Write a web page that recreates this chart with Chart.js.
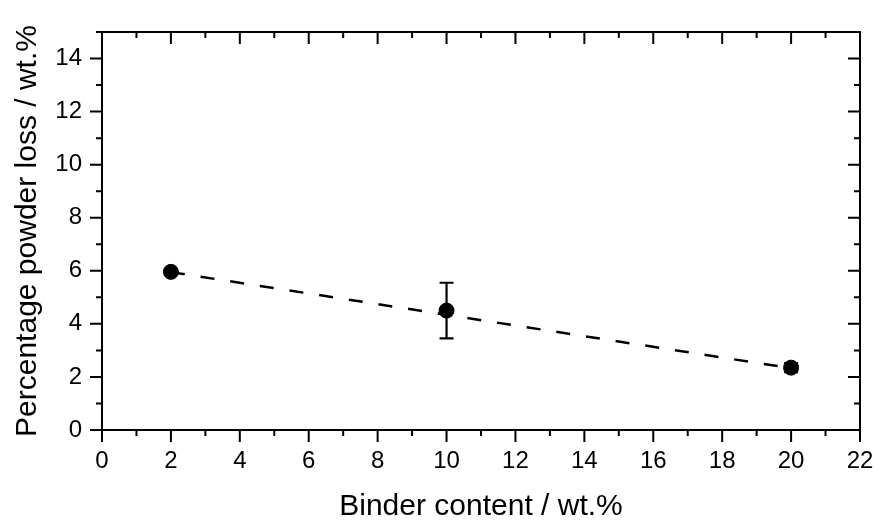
<!DOCTYPE html>
<html>
<head>
<meta charset="utf-8">
<script src="https://cdn.jsdelivr.net/npm/chart.js@4/dist/chart.umd.min.js"></script>
<style>
  body { margin: 0; background: #ffffff; }
  #wrap { width: 880px; height: 525px; }
</style>
</head>
<body>
<div id="wrap"><canvas id="chart0" width="880" height="525"></canvas></div>
<script>
const binderContent = [2, 10, 20];
const powderLoss = [5.96, 4.5, 2.35];
const powderLossErr = [0.1, 1.05, 0.17];

// dashed trend line end points
const fitX = [2, 20];
const fitY = [5.95, 2.33];

// axis ranges / ticks
const xMin = 0, xMax = 22, xStep = 2;
const yMin = 0, yMax = 15, yStep = 2;

const fontName = "'Liberation Sans', Arial, sans-serif";

function toPoints(xs, ys) {
  let pts = [];
  for (let i = 0; i < xs.length; ++i) {
    pts.push({ x: xs[i], y: ys[i] });
  }
  return pts;
}

// error bars drawn through the scales
const errorBars = {
  id: "errorBars",
  afterDatasetsDraw(chart) {
    const ctx = chart.ctx;
    const xs = chart.scales.x;
    const ys = chart.scales.y;
    ctx.save();
    ctx.strokeStyle = "#000";
    ctx.lineWidth = 2.2;
    for (let i = 0; i < binderContent.length; ++i) {
      let px = xs.getPixelForValue(binderContent[i]);
      let top = ys.getPixelForValue(powderLoss[i] + powderLossErr[i]);
      let bot = ys.getPixelForValue(powderLoss[i] - powderLossErr[i]);
      ctx.beginPath();
      ctx.moveTo(px, top);
      ctx.lineTo(px, bot);
      ctx.moveTo(px - 7, top);
      ctx.lineTo(px + 7, top);
      ctx.moveTo(px - 7, bot);
      ctx.lineTo(px + 7, bot);
      ctx.stroke();
    }
    ctx.restore();
  },
};

// box frame with major/minor ticks: out on left & bottom, in on top & right
const frameTicks = {
  id: "frameTicks",
  afterDraw(chart) {
    const ctx = chart.ctx;
    const a = chart.chartArea;
    const xs = chart.scales.x;
    const ys = chart.scales.y;
    const major = 12, minor = 6;
    ctx.save();
    ctx.strokeStyle = "#000";
    ctx.lineWidth = 2;
    ctx.strokeRect(a.left, a.top, a.right - a.left, a.bottom - a.top);
    ctx.beginPath();
    for (let v = xMin; v <= xMax; v += 1) {
      let px = xs.getPixelForValue(v);
      let len = v % xStep === 0 ? major : minor;
      ctx.moveTo(px, a.bottom);
      ctx.lineTo(px, a.bottom + len);
      ctx.moveTo(px, a.top);
      ctx.lineTo(px, a.top + len);
    }
    for (let v = yMin; v <= yMax; v += 1) {
      let py = ys.getPixelForValue(v);
      let len = v % yStep === 0 ? major : minor;
      ctx.moveTo(a.left, py);
      ctx.lineTo(a.left - len, py);
      ctx.moveTo(a.right, py);
      ctx.lineTo(a.right - len, py);
    }
    ctx.stroke();
    ctx.restore();
  },
};

const hiddenGrid = {
  drawOnChartArea: false,
  drawTicks: true,
  tickLength: 12,
  color: "rgba(0,0,0,0)",
};

let ctx = document.getElementById("chart0").getContext("2d");

let chart = new Chart(ctx, {
  type: "scatter",
  data: {
    datasets: [
      {
        type: "line",
        data: toPoints(fitX, fitY),
        borderColor: "#000",
        borderWidth: 2.5,
        borderDash: [14, 16],
        pointRadius: 0,
        fill: false,
      },
      {
        data: toPoints(binderContent, powderLoss),
        backgroundColor: "#000",
        borderColor: "#000",
        borderWidth: 1,
        pointRadius: 7.5,
        showLine: false,
      },
    ],
  },
  options: {
    responsive: false,
    animation: false,
    layout: { padding: { top: 32, right: 20, left: 0, bottom: 0 } },
    plugins: { legend: { display: false }, tooltip: { enabled: false } },
    scales: {
      x: {
        type: "linear",
        min: xMin,
        max: xMax,
        grid: hiddenGrid,
        border: { display: false },
        ticks: {
          stepSize: xStep,
          includeBounds: false,
          color: "#000",
          padding: 5,
          font: { family: fontName, size: 24 },
        },
        title: {
          display: true,
          text: "Binder content / wt.%",
          color: "#000",
          font: { family: fontName, size: 30, lineHeight: 1 },
          padding: { top: 0, bottom: 3 },
        },
        afterFit(scale) {
          scale.height = 95;
        },
      },
      y: {
        type: "linear",
        min: yMin,
        max: yMax,
        grid: hiddenGrid,
        border: { display: false },
        ticks: {
          stepSize: yStep,
          includeBounds: false,
          color: "#000",
          padding: 8,
          font: { family: fontName, size: 24 },
        },
        title: {
          display: true,
          text: "Percentage powder loss / wt.%",
          color: "#000",
          font: { family: fontName, size: 30, lineHeight: 1 },
          padding: { top: 13, bottom: 0 },
        },
        afterFit(scale) {
          scale.width = 102;
        },
      },
    },
  },
  plugins: [errorBars, frameTicks],
});
</script>
</body>
</html>
